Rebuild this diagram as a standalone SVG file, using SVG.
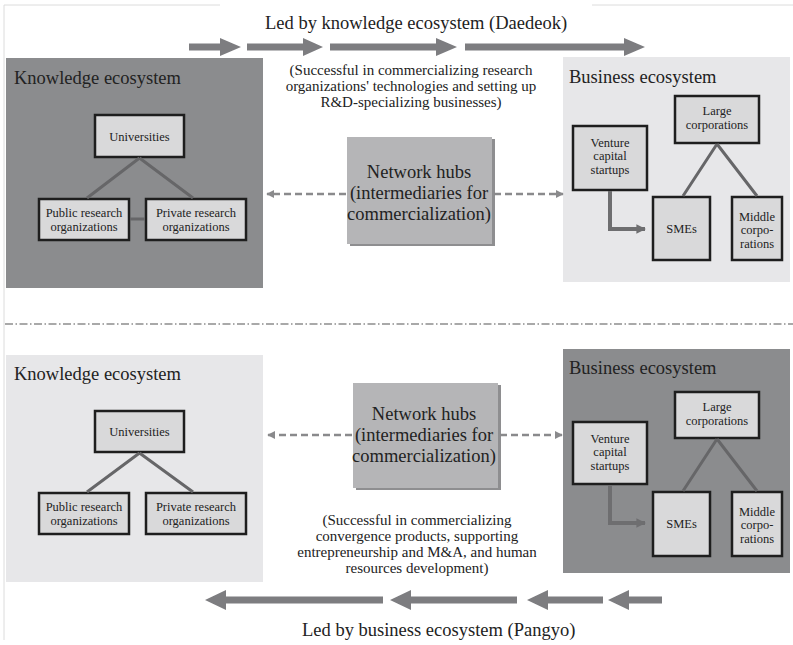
<svg xmlns="http://www.w3.org/2000/svg" width="793" height="645" viewBox="0 0 793 645">
  <style>
    text { font-family: "Liberation Serif", "Times New Roman", serif; fill: #222; }
    .title { font-size: 18.5px; }
    .eco { font-size: 18.5px; }
    .desc { font-size: 15px; text-anchor: middle; }
    .hubtxt { font-size: 18.5px; text-anchor: middle; }
    .node { font-size: 12.5px; text-anchor: middle; }
    .dark { fill: #8b8c8e; }
    .light { fill: #e7e7e9; }
    .box { fill: #d9d9da; stroke: #1e1e1e; stroke-width: 2.5; }
    .hub { fill: #b5b5b7; }
    .hubshadow { fill: #8e8e90; }
    .tree { stroke: #666668; stroke-width: 3; fill: none; }
    .dash { stroke: #8a8a8c; stroke-width: 2.5; stroke-dasharray: 7 4; fill: none; }
    .flow { stroke: #6e6e70; stroke-width: 4; fill: none; }
    .big { fill: #7d7d80; }
    .frame { stroke: #dcdcdc; stroke-width: 1; fill: none; }
  </style>
  <defs>
    <marker id="dashHead" viewBox="0 0 10 10" refX="9" refY="5" markerWidth="3.2" markerHeight="3.2" orient="auto-start-reverse" markerUnits="strokeWidth">
      <path d="M0,0 L10,5 L0,10 z" fill="#8a8a8c"/>
    </marker>
    <marker id="flowHead" viewBox="0 0 10 10" refX="9" refY="5" markerWidth="2.4" markerHeight="2.6" orient="auto" markerUnits="strokeWidth">
      <path d="M0,0 L10,5 L0,10 z" fill="#6e6e70"/>
    </marker>
  </defs>

  <rect width="793" height="645" fill="#ffffff"/>

  <!-- page frame -->
  <path class="frame" d="M4,5 H220 M592,5 H793 M4,5 V640"/>

  <!-- top section: led by the knowledge ecosystem -->
  <text class="title" x="265" y="29">Led by knowledge ecosystem (Daedeok)</text>
  <g id="top-flow-arrows">
    <polygon class="big" points="189,43.5 220,43.5 220,38 241,47 220,56 220,50.5 189,50.5"/>
    <polygon class="big" points="247,43.5 303,43.5 303,38 323,47 303,56 303,50.5 247,50.5"/>
    <polygon class="big" points="330,43.5 436,43.5 436,38 457,47 436,56 436,50.5 330,50.5"/>
    <polygon class="big" points="465,43.5 624,43.5 624,38 645,47 624,56 624,50.5 465,50.5"/>
  </g>
  <text class="desc" x="411" y="75">(Successful in commercializing research</text>
  <text class="desc" x="411" y="91">organizations' technologies and setting up</text>
  <text class="desc" x="411" y="107">R&amp;D-specializing businesses)</text>

  <g id="top-knowledge-ecosystem">
    <rect class="dark" x="6" y="58" width="257" height="230"/>
    <text class="eco" x="14" y="84">Knowledge ecosystem</text>
  </g>
  <g id="top-universities">
    <rect class="box" x="95" y="115" width="89" height="42"/>
    <text class="node" x="139.5" y="141">Universities</text>
  </g>
  <g id="top-public-research">
    <rect class="box" x="39" y="199" width="90" height="41"/>
    <text class="node" x="84" y="216.5">Public research</text>
    <text class="node" x="84" y="230.5">organizations</text>
  </g>
  <g id="top-private-research">
    <rect class="box" x="146" y="199" width="100" height="41"/>
    <text class="node" x="196" y="216.5">Private research</text>
    <text class="node" x="196" y="230.5">organizations</text>
  </g>

  <g id="top-network-hubs">
    <rect class="hubshadow" x="350" y="139" width="145" height="107"/>
    <rect class="hub" x="347" y="137" width="145" height="107"/>
    <text class="hubtxt" x="419" y="178">Network hubs</text>
    <text class="hubtxt" x="419" y="199">(intermediaries for</text>
    <text class="hubtxt" x="419" y="220">commercialization)</text>
  </g>

  <g id="top-business-ecosystem">
    <rect class="light" x="563" y="57" width="227" height="225"/>
    <text class="eco" x="569" y="83">Business ecosystem</text>
  </g>
  <g id="top-large-corporations">
    <rect class="box" x="675" y="96" width="84" height="47"/>
    <text class="node" x="717" y="115">Large</text>
    <text class="node" x="717" y="129">corporations</text>
  </g>
  <g id="top-venture-capital">
    <rect class="box" x="573" y="126" width="74" height="64"/>
    <text class="node" x="610" y="146.5">Venture</text>
    <text class="node" x="610" y="160">capital</text>
    <text class="node" x="610" y="173.5">startups</text>
  </g>
  <g id="top-smes">
    <rect class="box" x="653" y="197" width="57" height="63"/>
    <text class="node" x="681.5" y="233">SMEs</text>
  </g>
  <g id="top-middle-corporations">
    <rect class="box" x="732" y="197" width="50" height="63"/>
    <text class="node" x="757" y="220.5">Middle</text>
    <text class="node" x="757" y="234">corpo-</text>
    <text class="node" x="757" y="247.5">rations</text>
  </g>

  <g id="top-connectors">
    <path class="tree" d="M139.5,158 L87,198 M139.5,158 L193,198 M130,219 H145"/>
    <path class="tree" d="M717,144 L683,196 M717,144 L757,196"/>
    <path class="flow" d="M610,191 V229 H645" marker-end="url(#flowHead)"/>
    <path class="dash" d="M346,194 H267" marker-end="url(#dashHead)"/>
    <path class="dash" d="M494,194 H563" marker-end="url(#dashHead)"/>
  </g>

  <!-- divider between the two models -->
  <path d="M5,324 H793" stroke="#555" stroke-width="1.2" stroke-dasharray="8 2.5 1.5 2.5" fill="none"/>

  <!-- bottom section: led by the business ecosystem -->
  <g id="bottom-knowledge-ecosystem">
    <rect class="light" x="6" y="355" width="257" height="227"/>
    <text class="eco" x="14" y="380">Knowledge ecosystem</text>
  </g>
  <g id="bottom-universities">
    <rect class="box" x="95" y="411" width="89" height="41"/>
    <text class="node" x="139.5" y="436">Universities</text>
  </g>
  <g id="bottom-public-research">
    <rect class="box" x="39" y="493" width="90" height="41"/>
    <text class="node" x="84" y="510.5">Public research</text>
    <text class="node" x="84" y="524.5">organizations</text>
  </g>
  <g id="bottom-private-research">
    <rect class="box" x="146" y="493" width="100" height="41"/>
    <text class="node" x="196" y="510.5">Private research</text>
    <text class="node" x="196" y="524.5">organizations</text>
  </g>

  <g id="bottom-network-hubs">
    <rect class="hubshadow" x="356" y="385" width="145" height="105"/>
    <rect class="hub" x="353" y="383" width="145" height="105"/>
    <text class="hubtxt" x="424" y="420">Network hubs</text>
    <text class="hubtxt" x="424" y="441">(intermediaries for</text>
    <text class="hubtxt" x="424" y="462">commercialization)</text>
  </g>

  <g id="bottom-business-ecosystem">
    <rect class="dark" x="563" y="349" width="227" height="224"/>
    <text class="eco" x="569" y="374">Business ecosystem</text>
  </g>
  <g id="bottom-large-corporations">
    <rect class="box" x="675" y="392" width="84" height="46"/>
    <text class="node" x="717" y="411">Large</text>
    <text class="node" x="717" y="425">corporations</text>
  </g>
  <g id="bottom-venture-capital">
    <rect class="box" x="573" y="422" width="74" height="62"/>
    <text class="node" x="610" y="442.5">Venture</text>
    <text class="node" x="610" y="456">capital</text>
    <text class="node" x="610" y="469.5">startups</text>
  </g>
  <g id="bottom-smes">
    <rect class="box" x="653" y="492" width="57" height="64"/>
    <text class="node" x="681.5" y="528">SMEs</text>
  </g>
  <g id="bottom-middle-corporations">
    <rect class="box" x="732" y="492" width="50" height="64"/>
    <text class="node" x="757" y="515.5">Middle</text>
    <text class="node" x="757" y="529">corpo-</text>
    <text class="node" x="757" y="542.5">rations</text>
  </g>

  <g id="bottom-connectors">
    <path class="tree" d="M139.5,453 L87,492 M139.5,453 L193,492"/>
    <path class="tree" d="M717,439 L683,491 M717,439 L757,491"/>
    <path class="flow" d="M610,485 V523 H645" marker-end="url(#flowHead)"/>
    <path class="dash" d="M352,435 H268" marker-end="url(#dashHead)"/>
    <path class="dash" d="M500,435 H562" marker-end="url(#dashHead)"/>
  </g>

  <text class="desc" x="417" y="525">(Successful in commercializing</text>
  <text class="desc" x="417" y="541">convergence products, supporting</text>
  <text class="desc" x="417" y="557">entrepreneurship and M&amp;A, and human</text>
  <text class="desc" x="417" y="573">resources development)</text>

  <g id="bottom-flow-arrows">
    <polygon class="big" points="383,596.5 226,596.5 226,590 205,600 226,610 226,603.5 383,603.5"/>
    <polygon class="big" points="517,596.5 411,596.5 411,590 390,600 411,610 411,603.5 517,603.5"/>
    <polygon class="big" points="603,596.5 548,596.5 548,590 527,600 548,610 548,603.5 603,603.5"/>
    <polygon class="big" points="662,596.5 629,596.5 629,590 608,600 629,610 629,603.5 662,603.5"/>
  </g>
  <text class="title" x="302" y="636">Led by business ecosystem (Pangyo)</text>
</svg>
